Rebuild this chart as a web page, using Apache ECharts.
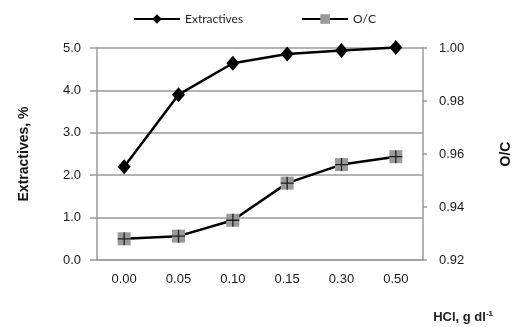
<!DOCTYPE html>
<html>
<head>
<meta charset="utf-8">
<script src="https://cdn.jsdelivr.net/npm/echarts@6/dist/echarts.min.js"></script>
<style>
  html, body { margin: 0; padding: 0; background: #fff; }
  #chart { width: 521px; height: 327px; }
</style>
</head>
<body>
<div id="chart"></div>
<script>
const categories = ['0.00', '0.05', '0.10', '0.15', '0.30', '0.50']
const extractives = [2.2, 3.9, 4.64, 4.86, 4.94, 5.01]
const oc = [0.928, 0.929, 0.935, 0.949, 0.956, 0.959]

const gray = '#9a9a9a'
const plusPath = 'path://M4.5,0h1v10h-1zM0,4.5h10v1h-10z'

const chart = echarts.init(document.getElementById('chart'))

const getOption = () => {
  return {
    animation: false,
    textStyle: { fontFamily: 'Liberation Sans, Arial, sans-serif' },
    legend: {
      top: 8,
      left: 128,
      itemWidth: 46,
      itemHeight: 12,
      itemGap: 58,
      textStyle: { fontSize: 12, color: '#1a1a2e', fontFamily: 'Lato, sans-serif' },
      data: ['Extractives', 'O/C']
    },
    grid: {
      left: 97,
      right: 88,
      top: 48,
      bottom: 67
    },
    xAxis: {
      type: 'category',
      data: categories,
      boundaryGap: true,
      axisLine: { lineStyle: { color: gray, width: 1.5 } },
      axisTick: { alignWithLabel: false, length: 6, lineStyle: { color: gray, width: 1.5 } },
      axisLabel: { color: '#1a1a1a', fontSize: 13, margin: 13 },
      name: '{b|HCl, g dl}{s|-1}',
      nameLocation: 'end',
      nameGap: 70,
      nameTextStyle: {
        align: 'right',
        verticalAlign: 'top',
        padding: [50, 0, 0, 0],
        rich: {
          b: { fontSize: 13, fontWeight: 'bold', color: '#222' },
          s: { fontSize: 8, fontWeight: 'bold', color: '#222', padding: [0, 0, 7, 0] }
        }
      }
    },
    yAxis: [
      {
        type: 'value',
        min: 0,
        max: 5,
        interval: 1,
        axisLine: { show: true, lineStyle: { color: gray, width: 1.5 } },
        axisTick: { show: true, length: 7, lineStyle: { color: gray, width: 1.5 } },
        splitLine: { lineStyle: { color: gray, width: 1.5 } },
        axisLabel: { color: '#1a1a1a', fontSize: 13, margin: 16, formatter: v => v.toFixed(1) },
        name: 'Extractives, %',
        nameLocation: 'middle',
        nameGap: 66,
        nameRotate: 90,
        nameTextStyle: { fontSize: 14, fontWeight: 'bold', color: '#111' }
      },
      {
        type: 'value',
        min: 0.92,
        max: 1.0,
        interval: 0.02,
        position: 'right',
        axisLine: { show: true, lineStyle: { color: gray, width: 1.5 } },
        axisTick: { show: true, length: 4, lineStyle: { color: gray, width: 1.5 } },
        splitLine: { show: false },
        axisLabel: { color: '#1a1a1a', fontSize: 13, margin: 16, formatter: v => v.toFixed(2) },
        name: 'O/C',
        nameLocation: 'middle',
        nameGap: 76,
        nameRotate: 90,
        nameTextStyle: { fontSize: 14, fontWeight: 'bold', color: '#111' }
      }
    ],
    series: [
      {
        name: 'Extractives',
        type: 'line',
        data: extractives,
        yAxisIndex: 0,
        clip: false,
        symbol: 'diamond',
        symbolSize: [13, 15],
        lineStyle: { color: '#000', width: 2.5 },
        itemStyle: { color: '#000' }
      },
      {
        name: 'O/C',
        type: 'line',
        data: oc,
        yAxisIndex: 1,
        clip: false,
        symbol: 'rect',
        symbolSize: 13,
        lineStyle: { color: '#000', width: 2.5 },
        itemStyle: { color: gray }
      },
      {
        name: 'O/C plus',
        type: 'scatter',
        data: oc,
        yAxisIndex: 1,
        clip: false,
        symbol: plusPath,
        symbolSize: 13,
        itemStyle: { color: '#000' },
        z: 5
      }
    ]
  }
}

chart.setOption(getOption())
</script>
</body>
</html>
